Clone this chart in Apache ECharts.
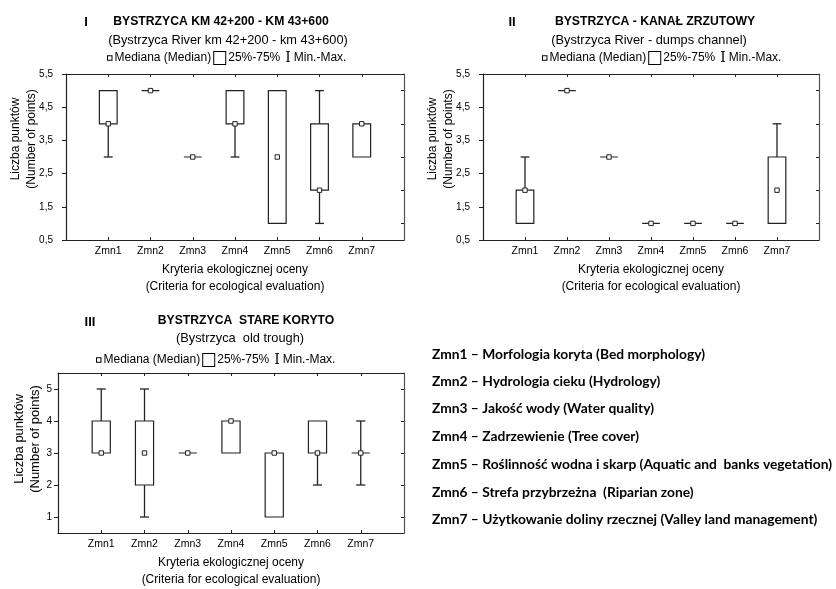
<!DOCTYPE html>
<html><head><meta charset="utf-8">
<script src="https://cdn.jsdelivr.net/npm/echarts@6/dist/echarts.min.js"></script>
<style>html,body{margin:0;padding:0;background:#fff}#c{width:836px;height:589px}</style>
</head><body><div id="c"></div>
<script>
// ---------- data ----------
const categories = ['Zmn1', 'Zmn2', 'Zmn3', 'Zmn4', 'Zmn5', 'Zmn6', 'Zmn7'];
const xTickPositions = [1, 2, 3, 4, 5, 6, 7];
const yTicksDecimal = [0.5, 1.5, 2.5, 3.5, 4.5, 5.5];
const yTicksInteger = [1, 2, 3, 4, 5];

// Panel I - Bystrzyca km 42+200 - km 43+600
const p1Min    = [3, 5, 3, 3, 1, 1, 3];
const p1Q1     = [4, 5, 3, 4, 1, 2, 3];
const p1Median = [4, 5, 3, 4, 3, 2, 4];
const p1Q3     = [5, 5, 3, 5, 5, 4, 4];
const p1Max    = [5, 5, 3, 5, 5, 5, 4];

// Panel II - Bystrzyca - dumps channel
const p2Min    = [1, 5, 3, 1, 1, 1, 1];
const p2Q1     = [1, 5, 3, 1, 1, 1, 1];
const p2Median = [2, 5, 3, 1, 1, 1, 2];
const p2Q3     = [2, 5, 3, 1, 1, 1, 3];
const p2Max    = [3, 5, 3, 1, 1, 1, 4];

// Panel III - Bystrzyca old trough
const p3Min    = [3, 1, 3, 3, 1, 2, 2];
const p3Q1     = [3, 2, 3, 3, 1, 3, 3];
const p3Median = [3, 3, 3, 4, 3, 3, 3];
const p3Q3     = [4, 4, 3, 4, 3, 4, 3];
const p3Max    = [5, 5, 3, 4, 3, 4, 4];

const explanations = [
  'Zmn1 \u2013 Morfologia koryta (Bed morphology)',
  'Zmn2 \u2013 Hydrologia cieku (Hydrology)',
  'Zmn3 \u2013 Jako\u015b\u0107 wody (Water quality)',
  'Zmn4 \u2013 Zadrzewienie (Tree cover)',
  'Zmn5 \u2013 Ro\u015blinno\u015b\u0107 wodna i skarp (Aquatic and  banks vegetation)',
  'Zmn6 \u2013 Strefa przybrze\u017cna  (Riparian zone)',
  'Zmn7 \u2013 U\u017cytkowanie doliny rzecznej (Valley land management)'
];

// ---------- build ----------
const FONT = '"Liberation Sans", Arial, sans-serif';
const LINE = '#222';

function toRows(mn, q1, md, q3, mx) {
  return categories.map((c, i) => [xTickPositions[i], mn[i], q1[i], md[i], q3[i], mx[i]]);
}

function renderBox(params, api) {
  const x = api.value(0);
  const mn = api.value(1), q1 = api.value(2), md = api.value(3), q3 = api.value(4), mx = api.value(5);
  const band = api.size([1, 0])[0];
  const bw = band * 0.42;
  const cw = bw * 0.5;
  const pMin = api.coord([x, mn]), pQ1 = api.coord([x, q1]), pMd = api.coord([x, md]);
  const pQ3 = api.coord([x, q3]), pMax = api.coord([x, mx]);
  const cx = pMin[0];
  const st = { stroke: LINE, lineWidth: 1.3, fill: null };
  const ch = [];
  if (mn < q1) {
    ch.push({ type: 'line', shape: { x1: cx, y1: pMin[1], x2: cx, y2: pQ1[1] }, style: st });
    ch.push({ type: 'line', shape: { x1: cx - cw / 2, y1: pMin[1], x2: cx + cw / 2, y2: pMin[1] }, style: st });
  }
  if (mx > q3) {
    ch.push({ type: 'line', shape: { x1: cx, y1: pMax[1], x2: cx, y2: pQ3[1] }, style: st });
    ch.push({ type: 'line', shape: { x1: cx - cw / 2, y1: pMax[1], x2: cx + cw / 2, y2: pMax[1] }, style: st });
  }
  ch.push({ type: 'rect', shape: { x: cx - bw / 2, y: pQ3[1], width: bw, height: pQ1[1] - pQ3[1] },
            style: { stroke: LINE, lineWidth: 1.2, fill: '#fff' } });
  ch.push({ type: 'rect', shape: { x: cx - 2.2, y: pMd[1] - 2.2, width: 4.4, height: 4.4 },
            style: { stroke: LINE, lineWidth: 1, fill: '#fff' } });
  return { type: 'group', children: ch };
}

const panels = [
  { grid: { left: 66, top: 74, width: 338, height: 166 }, rows: toRows(p1Min, p1Q1, p1Median, p1Q3, p1Max),
    leftTicks: yTicksDecimal, fmt: v => v.toFixed(1).replace('.', ','), labelMargin: 13,
    nameGap: 27, nameSize: 12, namePad: 36 },
  { grid: { left: 483, top: 74, width: 336, height: 166 }, rows: toRows(p2Min, p2Q1, p2Median, p2Q3, p2Max),
    leftTicks: yTicksDecimal, fmt: v => v.toFixed(1).replace('.', ','), labelMargin: 13,
    nameGap: 27, nameSize: 12, namePad: 36 },
  { grid: { left: 58, top: 373, width: 346, height: 165 }, rows: toRows(p3Min, p3Q1, p3Median, p3Q3, p3Max),
    leftTicks: yTicksInteger, fmt: v => String(v), labelMargin: 6,
    nameGap: 15, nameSize: 13, namePad: 28 }
];

const axisLineStyle = { color: LINE, width: 1.2 };
const grids = [], xAxes = [], yAxes = [], series = [];
panels.forEach((p, gi) => {
  grids.push(p.grid);
  xAxes.push({
    gridIndex: gi, type: 'value', min: 0, max: 8, position: 'bottom',
    axisLine: { show: true, onZero: false, lineStyle: axisLineStyle },
    axisTick: { show: true, inside: true, length: 3, customValues: xTickPositions, lineStyle: { color: LINE } },
    axisLabel: { show: true, customValues: xTickPositions, formatter: v => categories[v - 1] || '',
                 fontFamily: FONT, fontSize: 10.5, color: '#000', margin: 6 },
    splitLine: { show: false },
    name: 'Kryteria ekologicznej oceny\n(Criteria for ecological evaluation)',
    nameLocation: 'middle', nameGap: 21, nameMoveOverlap: false,
    nameTextStyle: { fontFamily: FONT, fontSize: 12, color: '#000', lineHeight: 17 }
  });
  xAxes.push({
    gridIndex: gi, type: 'value', min: 0, max: 8, position: 'top',
    axisLine: { show: true, onZero: false, lineStyle: axisLineStyle },
    axisTick: { show: true, inside: true, length: 3, customValues: xTickPositions, lineStyle: { color: LINE } },
    axisLabel: { show: false }, splitLine: { show: false }
  });
  yAxes.push({
    gridIndex: gi, type: 'value', min: 0.5, max: 5.5, position: 'left',
    axisLine: { show: true, onZero: false, lineStyle: axisLineStyle },
    axisTick: { show: true, inside: false, length: 4, customValues: p.leftTicks, lineStyle: { color: LINE } },
    axisLabel: { show: true, customValues: p.leftTicks, formatter: p.fmt,
                 fontFamily: FONT, fontSize: 10, color: '#000', margin: p.labelMargin },
    splitLine: { show: false },
    name: 'Liczba punkt\u00f3w\n(Number of points)', nameLocation: 'middle', nameGap: p.nameGap, nameRotate: 90,
    nameMoveOverlap: false,
    nameTextStyle: { fontFamily: FONT, fontSize: p.nameSize, color: '#000', lineHeight: 15.5, padding: [0, 0, 0, p.namePad] }
  });
  yAxes.push({
    gridIndex: gi, type: 'value', min: 0.5, max: 5.5, position: 'right',
    axisLine: { show: true, onZero: false, lineStyle: { color: '#555', width: 1.2 } },
    axisTick: { show: true, inside: true, length: 3, customValues: yTicksInteger, lineStyle: { color: LINE } },
    axisLabel: { show: false }, splitLine: { show: false }
  });
  series.push({
    type: 'custom', xAxisIndex: gi * 2, yAxisIndex: gi * 2, data: p.rows,
    encode: { x: 0, y: [1, 2, 3, 4, 5] }, renderItem: renderBox, clip: false
  });
});

function txt(x, y, text, size, weight, align, family) {
  return { type: 'text', x: x, y: y, silent: true,
    style: { text: text, fontSize: size, fontWeight: weight || 'normal', fontFamily: family || FONT,
             fill: '#000', align: align || 'left', verticalAlign: 'middle',
             textAlign: align || 'left', textVerticalAlign: 'middle' } };
}

function legendRow(x, y) {
  return {
    type: 'text', x: x, y: y, silent: true,
    style: {
      text: '{sq|}{t|Mediana (Median)}{bx|}{t|25%-75%}{ib|I}{t|Min.-Max.}',
      verticalAlign: 'middle', textVerticalAlign: 'middle', align: 'left', textAlign: 'left',
      rich: {
        sq: { width: 3.5, height: 3.5, borderColor: '#000', borderWidth: 1, backgroundColor: '#fff' },
        bx: { width: 11, height: 12, borderColor: '#000', borderWidth: 1, backgroundColor: '#fff' },
        ib: { fontFamily: 'DejaVu Serif', fontSize: 14, color: '#000', padding: [0, 0, 0, 2] },
        t: { fontFamily: FONT, fontSize: 12, color: '#000', padding: [0, 3, 0, 3] }
      }
    }
  };
}

const graphics = [
  txt(86, 22, 'I', 13, 'bold', 'center'),
  txt(221, 22, 'BYSTRZYCA KM 42+200 - KM 43+600', 12.2, 'bold', 'center'),
  txt(228, 40, '(Bystrzyca River km 42+200 - km 43+600)', 12.8, 'normal', 'center'),
  legendRow(108, 58),
  txt(512, 22, 'II', 13, 'bold', 'center'),
  txt(655, 22, 'BYSTRZYCA - KANA\u0141 ZRZUTOWY', 12.2, 'bold', 'center'),
  txt(649, 40, '(Bystrzyca River - dumps channel)', 12.8, 'normal', 'center'),
  legendRow(543, 58),
  txt(90, 322, 'III', 13, 'bold', 'center'),
  txt(246, 321, 'BYSTRZYCA  STARE KORYTO', 12.2, 'bold', 'center'),
  txt(240, 338.5, '(Bystrzyca  old trough)', 12.8, 'normal', 'center'),
  legendRow(97, 360)
];
const explY = [355, 382, 409, 437, 465, 493, 520];
explanations.forEach((e, i) => graphics.push(txt(432, explY[i], e, 13.8, 'bold', 'left', 'Lato, "Open Sans", sans-serif')));

const chart = echarts.init(document.getElementById('c'), null, { renderer: 'canvas' });
chart.setOption({
  backgroundColor: '#fff', animation: false,
  grid: grids, xAxis: xAxes, yAxis: yAxes, series: series, graphic: graphics
});
</script></body></html>
